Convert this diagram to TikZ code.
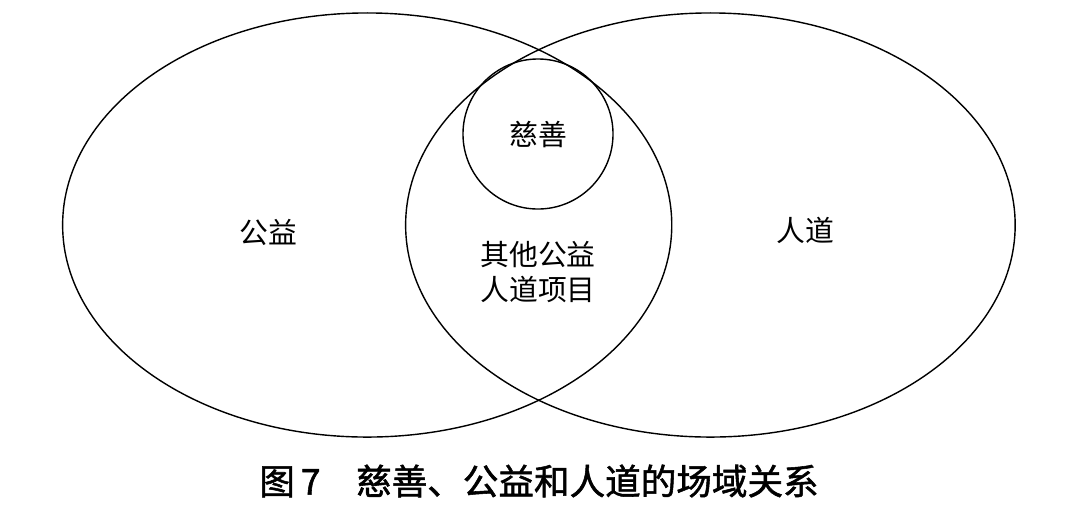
\documentclass[tikz,border=0pt]{standalone}
\usepackage{fontspec}
\setmainfont{Noto Sans CJK SC}
\newfontfamily\cjk{Noto Sans CJK SC}
\newfontfamily\capcjk[FakeBold=1.5]{Noto Sans CJK SC}
\tikzset{
  SetLine/.style={line width=1pt,color=black},
  AreaLbl/.style={font=\cjk\fontsize{20.5}{25}\selectfont,align=center,inner sep=0pt},
  CapLbl/.style={font=\capcjk\fontsize{25.3}{30}\selectfont,inner sep=0pt}
}
\begin{document}
\begin{tikzpicture}[x=0.025cm,y=-0.025cm]
\useasboundingbox (0,0) rectangle (1080,516);

\coordinate (Gc) at (367.2,225);
\coordinate (Rc) at (710.4,225);
\coordinate (Cc) at (538,134);

\draw[SetLine] (Gc) ellipse [x radius=7.6125cm, y radius=5.3cm];
\draw[SetLine] (Rc) ellipse [x radius=7.6175cm, y radius=5.3cm];
\draw[SetLine] (Cc) circle [radius=1.875cm];

\node[AreaLbl] (cishan) at (Cc) {慈善};
\node[AreaLbl] (gongyi) at (268,232) {公益};
\node[AreaLbl] (rendao) at (805,230) {人道};
\node[AreaLbl] (qita) at (538,272) {其他公益\\人道项目};

\node[CapLbl] (cap) at (539,481) {图\,7\quad 慈善、公益和人道的场域关系};
\end{tikzpicture}
\end{document}
